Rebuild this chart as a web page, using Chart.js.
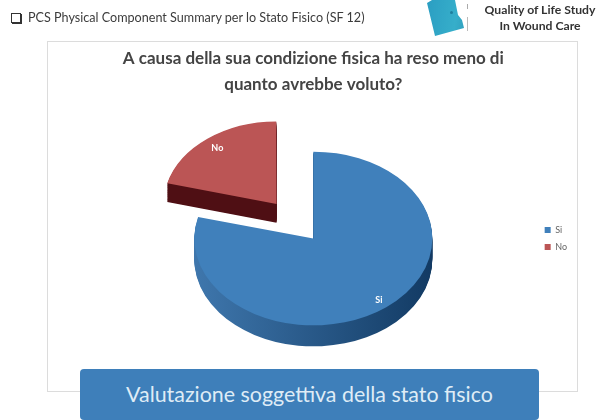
<!DOCTYPE html>
<html>
<head>
<meta charset="utf-8">
<script src="https://cdn.jsdelivr.net/npm/chart.js@4/dist/chart.umd.min.js"></script>
<style>
  html, body { margin: 0; padding: 0; background: #fff; }
  body { position: relative; width: 596px; height: 420px; overflow: hidden; font-family: Lato, sans-serif; filter: blur(0.5px); }
  #chart { position: absolute; left: 0; top: 0; }
  .frame { position: absolute; left: 47px; top: 41px; width: 529px; height: 349px; border: 1px solid #dcdcdc; }
  .heading { position: absolute; left: 28px; top: 10px; font-size: 12.6px; color: #3c3c3c; white-space: nowrap; }
  .box { position: absolute; left: 11px; top: 13px; width: 8px; height: 8px; border: 1.5px solid #333; box-shadow: 1px 1px 0 #333; }
  .book { position: absolute; left: 425px; top: 0; width: 42px; height: 38px; background: linear-gradient(100deg, #2a9dc2, #36aeca 70%, #2e9cbc); clip-path: polygon(2px 3px, 7px 0, 30px 0, 33px 15px, 37px 20px, 39px 28px, 10px 36px); }
  .dot { position: absolute; left: 450px; top: 11px; width: 3px; height: 3px; border-radius: 50%; background: #1f7f9f; }
  .rule { position: absolute; left: 467px; top: 4px; width: 1px; height: 27px; background: linear-gradient(#aaa 18%, #fff 18%, #fff 50%, #bbb 50%); }
  .study { position: absolute; left: 479px; top: 2px; width: 122px; text-align: center; font-size: 12.2px; line-height: 16px; font-weight: 700; color: #333; white-space: nowrap; }
  .banner { position: absolute; left: 80px; top: 369px; width: 459px; height: 51px; background: #3e7fba; border-radius: 4px; color: #dfecf6; font-size: 21.4px; line-height: 50px; text-align: center; }
</style>
</head>
<body>
<div class="frame"></div>
<canvas id="chart" width="596" height="420"></canvas>
<div class="box"></div>
<div class="heading">PCS Physical Component Summary per lo Stato Fisico (SF 12)</div>
<div class="book"></div>
<div class="dot"></div>
<div class="rule"></div>
<div class="study">Quality of Life Study<br>In Wound Care</div>
<div class="banner">Valutazione soggettiva della stato fisico</div>
<script>
const categories = ['Si', 'No'];
const values = [79, 21];
const sliceColors = ['#4080bb', '#bb5555'];
const sideColors = [['#3f77ad', '#123a63'], ['#4f0f14', '#4f0f14']];
const titleLines = ['A causa della sua condizione fisica ha reso meno di', 'quanto avrebbe voluto?'];

// the pie is squashed and extruded to look like the 3d one
const TILT = 0.73;
const DEPTH = 21;
const labelRadius = [0.9, 0.87];
// exploded slice looks smaller in the reference perspective
const sliceScale = [1, 0.933];

function tilt(chart, ctx) {
  const arc = chart.getDatasetMeta(0).data[0];
  ctx.translate(0, arc.y);
  ctx.scale(1, TILT);
  ctx.translate(0, -arc.y);
}

const pie3d = {
  id: 'pie3d',
  afterDatasetsUpdate(chart) {
    chart.getDatasetMeta(0).data.forEach((arc, i) => {
      arc.outerRadius = arc.outerRadius * sliceScale[i];
    });
  },
  beforeDatasetsDraw(chart) {
    const ctx = chart.ctx;
    ctx.save();
    chart.getDatasetMeta(0).data.forEach((arc, i) => {
      const grad = ctx.createLinearGradient(arc.x - 120, 0, arc.x + 120, 0);
      grad.addColorStop(0, sideColors[i][0]);
      grad.addColorStop(1, sideColors[i][1]);
      const side = Object.create(arc, { options: { value: { ...arc.options, backgroundColor: grad, borderWidth: 0 } } });
      for (let d = DEPTH; d > 0; d--) {
        ctx.save();
        ctx.translate(0, i === 0 ? d : d * 0.9);
        tilt(chart, ctx);
        side.draw(ctx);
        ctx.restore();
      }
    });
    ctx.restore();
    ctx.save();
    tilt(chart, ctx);
  },
  afterDatasetsDraw(chart) {
    const ctx = chart.ctx;
    ctx.restore();
    ctx.save();
    ctx.fillStyle = '#fff';
    ctx.font = 'bold 9px Lato';
    ctx.textAlign = 'center';
    ctx.textBaseline = 'middle';
    chart.getDatasetMeta(0).data.forEach((arc, i) => {
      const mid = (arc.startAngle + arc.endAngle) / 2;
      const dist = arc.outerRadius * labelRadius[i] + (arc.options.offset || 0) / 4;
      ctx.fillText(categories[i], arc.x + Math.cos(mid) * dist, arc.y + Math.sin(mid) * dist * TILT);
    });
    ctx.restore();
  }
};

new Chart(document.getElementById('chart'), {
  type: 'pie',
  data: {
    labels: categories,
    datasets: [{
      data: values,
      backgroundColor: sliceColors,
      borderWidth: 0,
      offset: [0, 240]
    }]
  },
  options: {
    responsive: false,
    animation: false,
    radius: 119,
    layout: { padding: { left: 90, right: 19, top: 46, bottom: 46 } },
    plugins: {
      tooltip: { enabled: false },
      title: {
        display: true,
        fullSize: false,
        text: titleLines,
        color: '#444',
        font: { family: 'Lato', size: 17, weight: 'bold', lineHeight: 1.5 },
        padding: { top: 0, bottom: 6 }
      },
      legend: {
        position: 'right',
        fullSize: false,
        labels: {
          boxWidth: 6,
          boxHeight: 6,
          color: '#666',
          font: { family: 'Lato', size: 9 },
          padding: 8
        }
      }
    }
  },
  plugins: [pie3d]
});
</script>
</body>
</html>
